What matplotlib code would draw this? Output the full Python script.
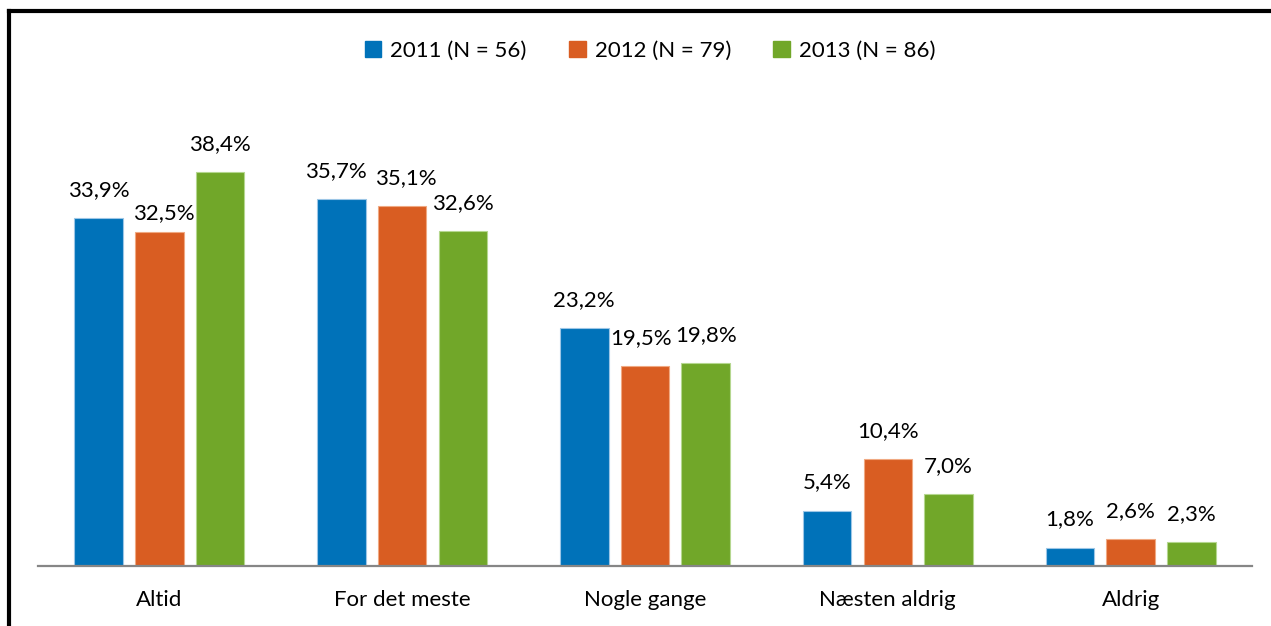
import matplotlib.pyplot as plt
from matplotlib.patches import Patch
from matplotlib.lines import Line2D
import numpy as np

# -----------------------------
# Data
# -----------------------------
categories = ["Altid", "For det meste", "Nogle gange", "Næsten aldrig", "Aldrig"]
series_names = ["2011 (N = 56)", "2012 (N = 79)", "2013 (N = 86)"]
values_2011 = [33.9, 35.7, 23.2, 5.4, 1.8]
values_2012 = [32.5, 35.1, 19.5, 10.4, 2.6]
values_2013 = [38.4, 32.6, 19.8, 7.0, 2.3]

colors = ["#0072B9", "#D95D22", "#71A729"]
edge_colors = ["#9CC6E6", "#F0A982", "#B5D78F"]

plt.rcParams["font.family"] = ["Lato", "DejaVu Sans"]
FS = 16

# -----------------------------
# Figure
# -----------------------------
fig = plt.figure(figsize=(12.71, 6.26), dpi=100)
ax = fig.add_axes([38 / 1271, 60 / 626, (1252 - 38) / 1271, 462 / 626])

x = np.arange(len(categories))
step = 0.25
width = 0.2
all_values = [values_2011, values_2012, values_2013]

# label nudges in pixels (dx, dy) where Excel moved labels apart
nudges = {(1, 0): (4, -9), (0, 1): (-6, 0), (1, 1): (4, 0), (1, 2): (-4, 0)}

for i, vals in enumerate(all_values):
    pos = x + (i - 1) * step
    bars = ax.bar(pos, vals, width=width, color=colors[i],
                  edgecolor=edge_colors[i], linewidth=0.8)
    for j, b in enumerate(bars):
        dx, dy = nudges.get((i, j), (0, 0))
        dy += 18
        ax.annotate(f"{vals[j]:.1f}%".replace(".", ","),
                    (b.get_x() + b.get_width() / 2, b.get_height()),
                    xytext=(dx * 0.72, dy * 0.72), textcoords="offset points",
                    ha="center", va="bottom", fontsize=FS, color="#000000")

ax.set_xlim(-0.5, 4.5)
ax.set_ylim(0, 45)
ax.set_xticks(x)
ax.set_xticklabels(categories, fontsize=FS)
ax.tick_params(axis="x", length=0, pad=17)
ax.set_yticks([])
for side in ["top", "right", "left"]:
    ax.spines[side].set_visible(False)
ax.spines["bottom"].set_color("#868686")
ax.spines["bottom"].set_linewidth(1.6)

# Legend
handles = [Patch(facecolor=c, edgecolor=c) for c in colors]
fig.legend(handles, series_names, loc="center", bbox_to_anchor=(650 / 1271, 1 - 51 / 626),
           ncol=3, frameon=False, fontsize=FS, handlelength=0.75, handleheight=0.75,
           handletextpad=0.4, columnspacing=1.9)

# Outer border (left and top edges visible)
fig.add_artist(Line2D([9 / 1271, 9 / 1271], [0, 1 - 11 / 626], transform=fig.transFigure,
                      color="black", linewidth=3, solid_capstyle="projecting"))
fig.add_artist(Line2D([9 / 1271, 1], [1 - 11 / 626, 1 - 11 / 626], transform=fig.transFigure,
                      color="black", linewidth=3, solid_capstyle="projecting"))

fig.savefig("out.png", dpi=100)
